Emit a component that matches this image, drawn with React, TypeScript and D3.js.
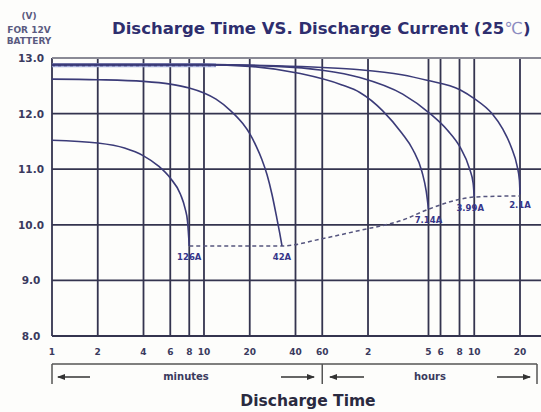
import React, { useEffect, useRef } from "react";
import * as d3 from "d3";

// each point is [minutes, volts]
type Pt = [number, number];

const curve126A: Pt[] = [
  [1, 11.52], [2, 11.47], [3, 11.38], [4, 11.24], [5, 11.06], [6, 10.84],
  [7, 10.55], [7.5, 10.3], [7.8, 10.05], [8, 9.62],
];
const curve42A: Pt[] = [
  [1, 12.62], [2, 12.61], [4, 12.58], [6, 12.53], [8, 12.46], [10, 12.37], [12, 12.26],
  [15, 12.05], [18, 11.82], [20, 11.64], [22, 11.42], [24, 11.18], [26, 10.9],
  [28, 10.55], [30, 10.15], [31.5, 9.85], [32.6, 9.62],
];
const curve714A: Pt[] = [
  [1, 12.88], [10, 12.88], [20, 12.85], [43, 12.72], [80, 12.52], [106, 12.38],
  [150, 12.05], [200, 11.65], [237, 11.35], [272, 10.95], [290, 10.6], [300, 10.28],
];
const curve399A: Pt[] = [
  [1, 12.88], [10, 12.88], [30, 12.85], [60, 12.78], [106, 12.65], [203, 12.35],
  [307, 12.0], [400, 11.7], [483, 11.4], [560, 11.0], [590, 10.75], [600, 10.5],
];
const curve21A: Pt[] = [
  [1, 12.88], [10, 12.88], [30, 12.86], [60, 12.83], [106, 12.79], [200, 12.7],
  [293, 12.6], [483, 12.43], [600, 12.27], [785, 12.0], [925, 11.72], [1050, 11.4],
  [1150, 11.05], [1190, 10.8], [1200, 10.55],
];
const endVoltage: Pt[] = [
  [8, 9.62], [32.6, 9.62], [60, 9.75], [106, 9.9], [200, 10.08],
  [300, 10.28], [483, 10.46], [600, 10.5], [1200, 10.52],
];
const topDashed: Pt[] = [[1, 12.87], [12, 12.87]];

const seriesCurves: Pt[][] = [curve126A, curve42A, curve714A, curve399A, curve21A];
const seriesLabels: string[] = ["126A", "42A", "7.14A", "3.99A", "2.1A"];

const minuteTicks: number[] = [1, 2, 4, 6, 8, 10, 20, 40, 60];
const hourTicks: number[] = [2, 5, 6, 8, 10, 20];
const voltTicks: number[] = [13, 12, 11, 10, 9, 8];

const W = 541;
const H = 412;
const gridColor = "#34344f";
const curveColor = "#3b3b78";
const textColor = "#3a3a5e";
const font = "'DejaVu Sans', Arial, sans-serif";

const App: React.FC = () => {
  const ref = useRef<SVGSVGElement>(null);

  useEffect(() => {
    if (!ref.current) return;
    const svg = d3.select(ref.current);
    svg.selectAll("*").remove();

    const x = d3.scaleLog().domain([1, 1200]).range([52, 520]);
    const y = d3.scaleLinear().domain([8, 13]).range([336, 58]);
    const right = W;

    svg.append("rect").attr("width", W).attr("height", H).attr("fill", "#fdfdfb");

    // grid
    const tickMinutes = [...minuteTicks, ...hourTicks.map((h) => h * 60)];
    svg.append("g")
      .selectAll("line")
      .data(tickMinutes)
      .enter()
      .append("line")
      .attr("x1", (d) => x(d)).attr("x2", (d) => x(d))
      .attr("y1", y(13)).attr("y2", y(8))
      .attr("stroke", gridColor).attr("stroke-width", 1.8);

    svg.append("g")
      .selectAll("line")
      .data(voltTicks)
      .enter()
      .append("line")
      .attr("x1", x(1)).attr("x2", right)
      .attr("y1", (d) => y(d)).attr("y2", (d) => y(d))
      .attr("stroke", (d) => (d === 13 ? "#8a8a95" : gridColor))
      .attr("stroke-width", (d) => (d === 13 ? 2.2 : 1.8));

    // y labels
    svg.append("g")
      .selectAll("text")
      .data(voltTicks)
      .enter()
      .append("text")
      .attr("x", 31).attr("y", (d) => y(d) + 4)
      .attr("text-anchor", "middle")
      .attr("font-family", font).attr("font-weight", "bold").attr("font-size", 10.5)
      .attr("fill", textColor)
      .text((d) => d3.format(".1f")(d));

    // x labels
    const tickLabels = [...minuteTicks, ...hourTicks];
    svg.append("g")
      .selectAll("text")
      .data(tickMinutes)
      .enter()
      .append("text")
      .attr("x", (d) => x(d)).attr("y", 355)
      .attr("text-anchor", "middle")
      .attr("font-family", font).attr("font-weight", "bold").attr("font-size", 9)
      .attr("fill", textColor)
      .text((d, i) => tickLabels[i].toString());

    const line = d3.line<Pt>()
      .x((d) => x(d[0]))
      .y((d) => y(d[1]))
      .curve(d3.curveMonotoneX);

    // dashed lines
    svg.append("path")
      .attr("d", line(topDashed))
      .attr("fill", "none").attr("stroke", "#a9b0dc").attr("stroke-width", 4);
    svg.append("path")
      .attr("d", line(endVoltage))
      .attr("fill", "none").attr("stroke", "#55557e").attr("stroke-width", 1.5)
      .attr("stroke-dasharray", "4,3");

    // discharge curves
    svg.append("g")
      .selectAll("path")
      .data(seriesCurves)
      .enter()
      .append("path")
      .attr("d", (d) => line(d))
      .attr("fill", "none").attr("stroke", curveColor).attr("stroke-width", 1.6);

    svg.append("path")
      .attr("d", line(topDashed))
      .attr("fill", "none").attr("stroke", "#3b3b78").attr("stroke-width", 2)
      .attr("stroke-dasharray", "3,3");

    // curve labels
    svg.append("g")
      .selectAll("text")
      .data(seriesCurves)
      .enter()
      .append("text")
      .attr("x", (d) => x(d[d.length - 1][0]) - (d === curve399A ? 4 : 0))
      .attr("y", (d) => y(d[d.length - 1][1]) + 14)
      .attr("text-anchor", "middle")
      .attr("font-family", font).attr("font-weight", "bold").attr("font-size", 8.5)
      .attr("fill", "#36368a")
      .text((d, i) => seriesLabels[i]);

    // minutes / hours bracket
    const defs = svg.append("defs");
    defs.append("marker")
      .attr("id", "arr").attr("viewBox", "0 0 8 6")
      .attr("refX", 7).attr("refY", 3)
      .attr("markerWidth", 8).attr("markerHeight", 6)
      .attr("markerUnits", "userSpaceOnUse")
      .attr("orient", "auto")
      .append("path").attr("d", "M0,0L8,3L0,6Z").attr("fill", "#333");

    const br = svg.append("g").attr("stroke", "#555").attr("stroke-width", 1.5);
    br.append("line").attr("x1", x(1)).attr("x2", 537).attr("y1", 364).attr("y2", 364);
    [x(1), x(60), 537].forEach((px) => {
      br.append("line").attr("x1", px).attr("x2", px).attr("y1", 364).attr("y2", 384);
    });
    const arrows: [number, number][] = [
      [90, 58], [281, 314], [364, 330], [497, 530],
    ];
    arrows.forEach(([a, b]) => {
      svg.append("line")
        .attr("x1", a).attr("x2", b).attr("y1", 377).attr("y2", 377)
        .attr("stroke", "#333").attr("stroke-width", 1.5)
        .attr("marker-end", "url(#arr)");
    });
    svg.append("text").attr("x", 186).attr("y", 380).attr("text-anchor", "middle")
      .attr("font-family", font).attr("font-weight", "bold").attr("font-size", 10)
      .attr("fill", textColor).text("minutes");
    svg.append("text").attr("x", 430).attr("y", 380).attr("text-anchor", "middle")
      .attr("font-family", font).attr("font-weight", "bold").attr("font-size", 10)
      .attr("fill", textColor).text("hours");

    // axis title
    svg.append("text").attr("x", 308).attr("y", 406).attr("text-anchor", "middle")
      .attr("font-family", font).attr("font-weight", "bold").attr("font-size", 15.5)
      .attr("fill", "#2a2a40").text("Discharge Time");

    // chart title
    const title = svg.append("text").attr("x", 112).attr("y", 34)
      .attr("font-family", font).attr("font-weight", "bold").attr("font-size", 16.5)
      .attr("fill", "#2e2e6e");
    title.append("tspan").text("Discharge Time VS. Discharge Current (25");
    title.append("tspan").attr("font-weight", "normal").attr("fill", "#8c8cc0").text("℃");
    title.append("tspan").text(")");

    // unit label
    const unit = ["(V)", "FOR 12V", "BATTERY"];
    svg.append("g")
      .selectAll("text")
      .data(unit)
      .enter()
      .append("text")
      .attr("x", 29).attr("y", (d, i) => [19, 33, 44][i])
      .attr("text-anchor", "middle")
      .attr("font-family", font).attr("font-weight", "bold").attr("font-size", 9)
      .attr("fill", "#5a5a80")
      .text((d) => d);
  }, []);

  return (
    <div>
      <svg ref={ref} width={W} height={H} style={{ position: "absolute", left: 0, top: 0 }} />
    </div>
  );
};

export default App;
